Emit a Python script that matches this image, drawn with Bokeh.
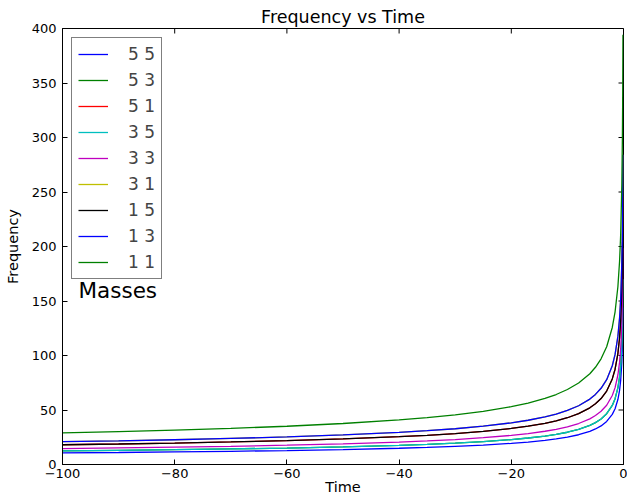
import math
from bokeh.plotting import figure
from bokeh.models import Legend, LegendItem, Label, FixedTicker, CustomJSTickFormatter
from bokeh.embed import file_html
from bokeh.resources import INLINE

# ---- data ----
time = [-100, -90, -80, -70, -60, -50, -40, -35, -30, -25, -20, -17, -14, -12, -10,
        -8, -6, -5, -4, -3, -2, -1.5, -1, -0.7, -0.5, -0.3, -0.2, -0.15, -0.095]

freq_55 = [10.6, 11.0, 11.5, 12.1, 12.8, 13.7, 14.9, 15.7, 16.7, 17.8, 19.4, 20.6, 22.2, 23.5, 25.1,
           27.3, 30.4, 32.6, 35.4, 39.5, 46.0, 51.2, 59.6, 68.1, 77.3, 93.6, 109.0, 121.4, 144.1]
freq_53 = [12.5, 13.0, 13.6, 14.3, 15.1, 16.2, 17.6, 18.5, 19.6, 21.0, 22.9, 24.3, 26.1, 27.7, 29.6,
           32.2, 35.9, 38.4, 41.8, 46.6, 54.2, 60.4, 70.3, 80.4, 91.2, 110.4, 128.5, 143.2, 170.0]
freq_51 = [18.1, 18.8, 19.7, 20.7, 21.9, 23.5, 25.5, 26.8, 28.4, 30.4, 33.1, 35.2, 37.8, 40.1, 42.9,
           46.7, 52.0, 55.7, 60.5, 67.4, 78.5, 87.4, 101.8, 116.3, 132.0, 159.9, 186.1, 207.3, 246.1]
freq_35 = [12.5, 13.0, 13.6, 14.3, 15.1, 16.2, 17.6, 18.5, 19.6, 21.0, 22.9, 24.3, 26.1, 27.7, 29.6,
           32.2, 35.9, 38.4, 41.8, 46.6, 54.2, 60.4, 70.3, 80.4, 91.2, 110.4, 128.5, 143.2, 170.0]
freq_33 = [14.6, 15.2, 15.9, 16.7, 17.7, 18.9, 20.6, 21.6, 22.9, 24.6, 26.7, 28.4, 30.5, 32.3, 34.6,
           37.6, 41.9, 44.9, 48.8, 54.4, 63.3, 70.5, 82.1, 93.9, 106.5, 128.9, 150.1, 167.2, 198.5]
freq_31 = [20.9, 21.7, 22.7, 23.9, 25.3, 27.1, 29.5, 31.0, 32.8, 35.2, 38.2, 40.6, 43.7, 46.3, 49.6,
           53.9, 60.0, 64.3, 69.9, 77.8, 90.6, 101.0, 117.5, 134.4, 152.4, 184.6, 214.9, 239.4, 284.2]
freq_15 = [18.1, 18.8, 19.7, 20.7, 21.9, 23.5, 25.5, 26.8, 28.4, 30.4, 33.1, 35.2, 37.8, 40.1, 42.9,
           46.7, 52.0, 55.7, 60.5, 67.4, 78.5, 87.4, 101.8, 116.3, 132.0, 159.9, 186.1, 207.3, 246.1]
freq_13 = [20.9, 21.7, 22.7, 23.9, 25.3, 27.1, 29.5, 31.0, 32.8, 35.2, 38.2, 40.6, 43.7, 46.3, 49.6,
           53.9, 60.0, 64.3, 69.9, 77.8, 90.6, 101.0, 117.5, 134.4, 152.4, 184.6, 214.9, 239.4, 284.2]
freq_11 = [29.0, 30.2, 31.5, 33.1, 35.1, 37.6, 40.9, 43.0, 45.6, 48.8, 53.0, 56.4, 60.6, 64.2, 68.8,
           74.8, 83.3, 89.2, 97.0, 108.0, 125.7, 140.1, 163.1, 186.4, 211.5, 256.1, 298.2, 332.2, 394.3]

series = [freq_55, freq_53, freq_51, freq_35, freq_33, freq_31, freq_15, freq_13, freq_11]
labels = ["5 5", "5 3", "5 1", "3 5", "3 3", "3 1", "1 5", "1 3", "1 1"]
colors = ["#0000ff", "#008000", "#ff0000", "#00bfbf", "#bf00bf", "#bfbf00", "#000000", "#0000ff", "#008000"]

x_ticks = [-100, -80, -60, -40, -20, 0]
y_ticks = [0, 50, 100, 150, 200, 250, 300, 350, 400]
x_min, x_max = -100, 0
y_min, y_max = 0, 400

FONT = "DejaVu Sans"

p = figure(width=627, height=497, x_range=(x_min, x_max), y_range=(y_min, y_max),
           output_backend="svg", toolbar_location=None,
           min_border_left=62, min_border_right=4, min_border_top=28, min_border_bottom=33)
p.background_fill_color = "white"
p.border_fill_color = "white"
p.outline_line_color = "black"
p.outline_line_width = 1
p.xgrid.visible = False
p.ygrid.visible = False

p.title.text = "Frequency vs Time"
p.title.align = "center"
p.title.text_font = FONT
p.title.text_font_size = "17.5px"
p.title.text_font_style = "normal"
p.title.text_color = "black"
p.title.standoff = 4

minus_fmt = CustomJSTickFormatter(code="return String(tick).replace('-', '\\u2212');")

xa = p.xaxis[0]
xa.ticker = FixedTicker(ticks=x_ticks)
xa.formatter = minus_fmt
ya = p.yaxis[0]
ya.ticker = FixedTicker(ticks=y_ticks)
for ax in (xa, ya):
    ax.major_tick_in = 5
    ax.major_tick_out = 0
    ax.minor_tick_line_color = None
    ax.axis_line_color = "black"
    ax.major_tick_line_color = "black"
    ax.major_label_text_font = FONT
    ax.major_label_text_font_size = "13px"
    ax.major_label_text_color = "black"
    ax.axis_label_text_font = FONT
    ax.axis_label_text_font_size = "14.5px"
    ax.axis_label_text_font_style = "normal"
    ax.axis_label_text_color = "black"
xa.axis_label = "Time"
ya.axis_label = "Frequency"
xa.major_label_standoff = 4
xa.axis_label_standoff = -2
ya.major_label_standoff = 6
ya.axis_label_standoff = 8

# mirrored inward ticks on the top and right edges (outer half clipped by the frame)
p.scatter(x=x_ticks, y=[y_max] * len(x_ticks), marker="dash", size=10, angle=math.pi / 2,
          line_color="black", line_width=1)
p.scatter(x=[x_max] * len(y_ticks), y=y_ticks, marker="dash", size=10,
          line_color="black", line_width=1)

items = []
for ys, lab, col in zip(series, labels, colors):
    r = p.line(time, ys, line_color=col, line_width=1.3)
    items.append(LegendItem(label=lab, renderers=[r]))

legend = Legend(items=items, location="top_left", margin=9, padding=6, spacing=6,
                glyph_width=30, glyph_height=20, label_standoff=20, label_height=20,
                label_text_font=FONT, label_text_font_size="17px",
                border_line_color="black", border_line_width=1.3,
                background_fill_color="white", background_fill_alpha=1.0)
p.add_layout(legend)

p.add_layout(Label(x=16, y=174, x_units="screen", y_units="screen", text="Masses",
                   text_font=FONT, text_font_size="21.5px", text_color="black",
                   text_baseline="alphabetic"))

open("out.html", "w").write(file_html(p, INLINE))
